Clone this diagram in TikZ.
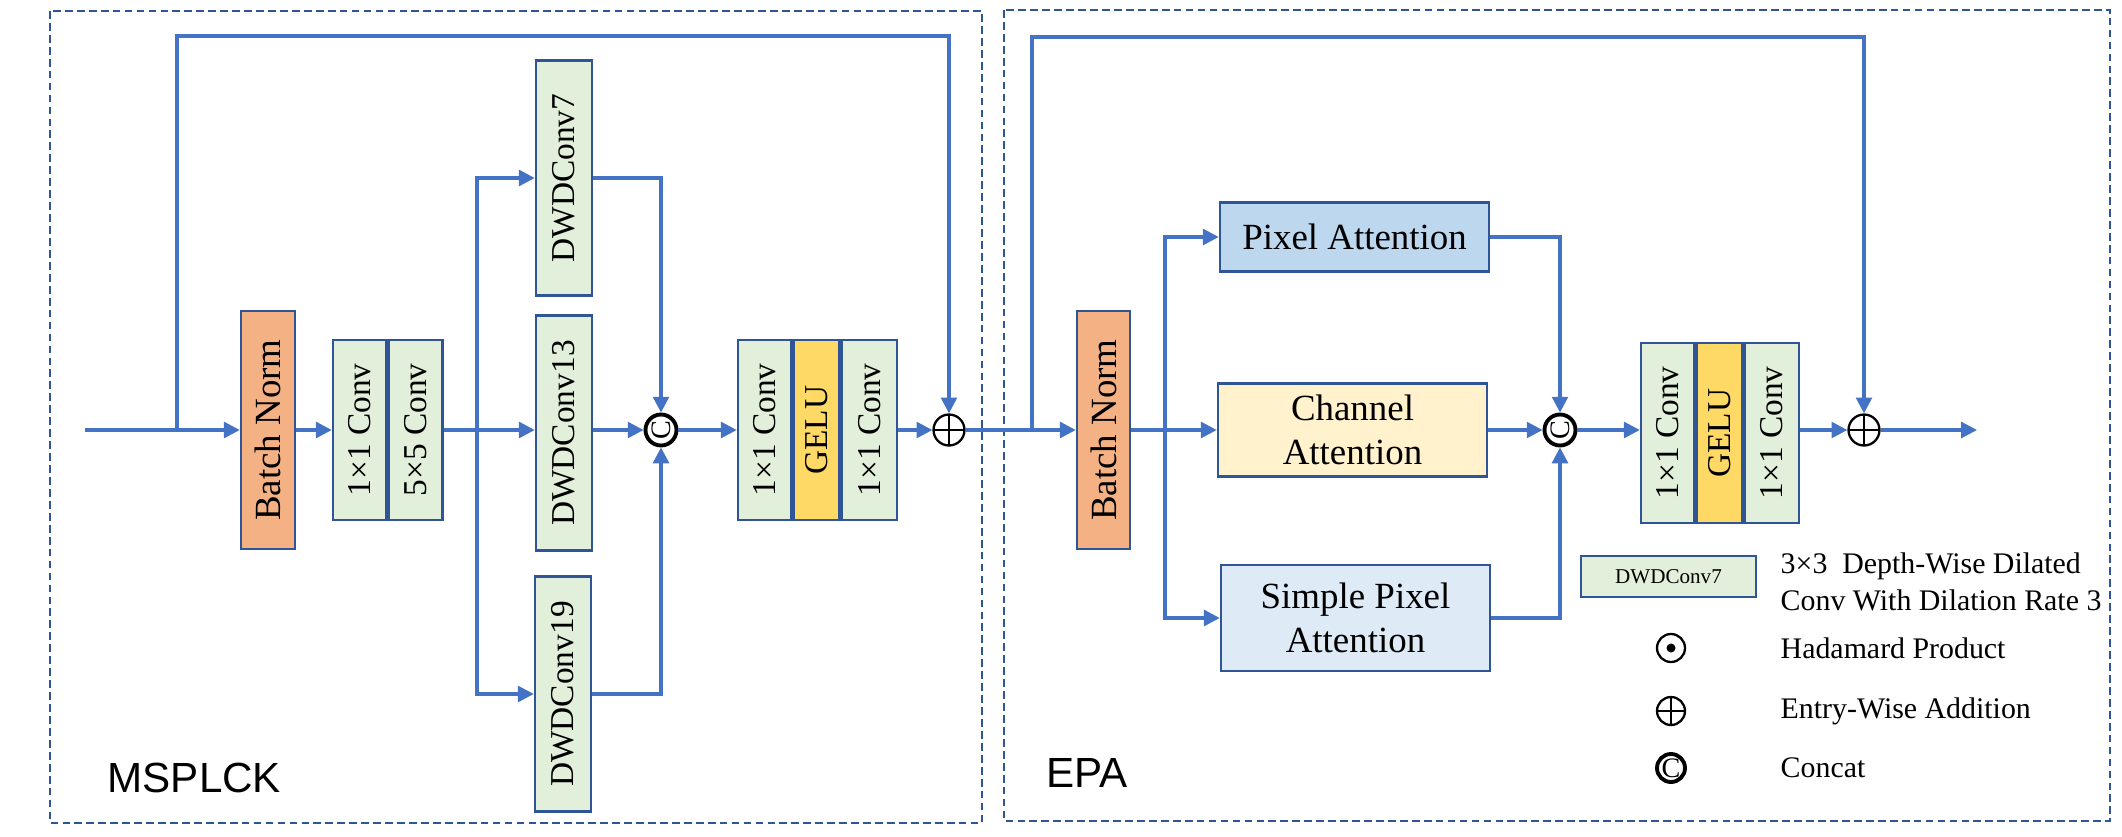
\documentclass[tikz,border=0pt]{standalone}
\usepackage{fontspec}
\setmainfont{Liberation Serif}
\newfontfamily\tagfont{Liberation Sans}
\usetikzlibrary{arrows.meta,positioning}
\definecolor{flowblue}{RGB}{68,114,196}
\definecolor{edgeblue}{RGB}{47,85,151}
\definecolor{convgreen}{RGB}{226,239,218}
\definecolor{normorange}{RGB}{244,177,131}
\definecolor{geluyellow}{RGB}{255,217,102}
\definecolor{pixblue}{RGB}{189,215,238}
\definecolor{chancream}{RGB}{255,242,204}
\definecolor{spixblue}{RGB}{222,235,247}

\begin{document}
\begin{tikzpicture}[x=0.1mm,y=-0.1mm,
    blk/.style={draw=edgeblue,line width=0.7pt,inner sep=0pt,fill=convgreen,
      minimum width=5.4mm,minimum height=18mm,font=\fontsize{9.5}{11}\selectfont},
    normblk/.style={blk,fill=normorange,minimum height=23.8mm,font=\fontsize{10.5}{12}\selectfont},
    dwblk/.style={blk,minimum width=5.6mm,minimum height=23.5mm},
    attblk/.style={draw=edgeblue,line width=0.7pt,minimum width=26.9mm,align=center,
      font=\fontsize{10.5}{12.5}\selectfont},
    flow/.style={draw=flowblue,line width=0.9pt,-{Triangle[length=4.5pt,width=4.5pt]}},
    wire/.style={draw=flowblue,line width=0.9pt},
    catop/.style={circle,draw,line width=1.1pt,minimum size=3.1mm,inner sep=0pt,
      font=\fontsize{8}{8}\selectfont},
    addop/.style={circle,draw,line width=0.65pt,minimum size=3.1mm,inner sep=0pt,
      path picture={\draw[line width=0.65pt]
        (path picture bounding box.north) -- (path picture bounding box.south)
        (path picture bounding box.west) -- (path picture bounding box.east);}},
    hadop/.style={circle,draw,line width=0.65pt,minimum size=2.8mm,inner sep=0pt,
      path picture={\fill (path picture bounding box.center) circle (0.45mm);}},
    lgtext/.style={anchor=west,inner sep=0pt,align=left,font=\fontsize{8.5}{10.5}\selectfont},
    frame/.style={draw=edgeblue,line width=0.6pt,dash pattern=on 2.2pt off 1.2pt}
  ]
  \useasboundingbox (0,0) rectangle (2122,836);

  % outer dashed frames
  \draw[frame] (50,11) rectangle (982,823);
  \draw[frame] (1004,10) rectangle (2110,821);
  \node[anchor=west,inner sep=0pt,font=\tagfont\fontsize{12}{14}\selectfont] (lblmsp) at (107,778) {MSPLCK};
  \node[anchor=west,inner sep=0pt,font=\tagfont\fontsize{12}{14}\selectfont] (lblepa) at (1046,773) {EPA};

  % MSPLCK block
  \coordinate (in) at (85,430);
  \coordinate (sk1) at (177,430);
  \coordinate (top1) at (177,36);
  \node[normblk] (bn1) at (268,430) {\rotatebox{90}{Batch Norm}};
  \node[blk,minimum width=5.3mm] (k1) at (359.5,430) {\rotatebox{90}{1×1 Conv}};
  \node[blk,right=0pt of k1] (k5) {\rotatebox{90}{5×5 Conv}};
  \coordinate (sp1) at (477,430);
  \node[dwblk] (dw7) at (564,178) {\rotatebox{90}{DWDConv7}};
  \node[dwblk] (dw13) at (564,433) {\rotatebox{90}{DWDConv13}};
  \node[dwblk] (dw19) at (563,694) {\rotatebox{90}{DWDConv19}};
  \node[catop] (cat1) at (661,430) {\rotatebox{90}{C}};
  \node[blk,minimum width=5.3mm] (m1a) at (764.5,430) {\rotatebox{90}{1×1 Conv}};
  \node[blk,fill=geluyellow,minimum width=4.6mm,right=0pt of m1a] (m1g) {\rotatebox{90}{GELU}};
  \node[blk,minimum width=5.5mm,right=0pt of m1g] (m1b) {\rotatebox{90}{1×1 Conv}};
  \node[addop] (add1) at (949,430) {};

  \draw[flow] (in) -- (bn1);
  \draw[flow] (sk1) -- (top1) -| (add1.north);
  \draw[flow] (bn1) -- (k1);
  \draw[wire] (k5.east) -- (sp1);
  \draw[flow] (sp1) |- (dw7.west);
  \draw[flow] (sp1) -- (sp1 -| dw13.west);
  \draw[flow] (sp1) |- (dw19.west);
  \draw[flow] (dw13.east |- cat1) -- (cat1);
  \draw[flow] (dw7.east) -| (cat1.north);
  \draw[flow] (dw19.east) -| (cat1.south);
  \draw[flow] (cat1) -- (m1a);
  \draw[flow] (m1b) -- (add1);

  % EPA block
  \coordinate (sk2) at (1032,430);
  \coordinate (top2) at (1032,37);
  \node[normblk,minimum width=5.3mm] (bn2) at (1103.5,430) {\rotatebox{90}{Batch Norm}};
  \coordinate (sp2) at (1165,430);
  \node[attblk,fill=pixblue,minimum height=6.9mm] (pa) at (1354.5,237) {Pixel Attention};
  \node[attblk,fill=chancream,minimum height=8.7mm] (ca) at (1352.5,430) {Channel\\Attention};
  \node[attblk,fill=spixblue,minimum height=10.6mm] (spa) at (1355.5,618) {Simple Pixel\\Attention};
  \node[catop] (cat2) at (1560,430) {\rotatebox{90}{C}};
  \node[blk,minimum width=5.3mm] (m2a) at (1667.5,433) {\rotatebox{90}{1×1 Conv}};
  \node[blk,fill=geluyellow,minimum width=4.6mm,right=0pt of m2a] (m2g) {\rotatebox{90}{GELU}};
  \node[blk,minimum width=5.4mm,right=0pt of m2g] (m2b) {\rotatebox{90}{1×1 Conv}};
  \node[addop] (add2) at (1864,430) {};
  \coordinate (out) at (1977,430);

  \draw[flow] (add1) -- (bn2);
  \draw[flow] (sk2) -- (top2) -| (add2.north);
  \draw[flow] (bn2) -- (ca);
  \draw[flow] (sp2) |- (pa.west);
  \draw[flow] (sp2) |- (spa.west);
  \draw[flow] (pa.east) -| (cat2.north);
  \draw[flow] (ca) -- (cat2);
  \draw[flow] (spa.east) -| (cat2.south);
  \draw[flow] (cat2) -- (m2a.west |- cat2);
  \draw[flow] (m2b.east |- add2) -- (add2);
  \draw[flow] (add2) -- (out);

  % legend
  \node[blk,minimum width=17.5mm,minimum height=4.1mm,font=\fontsize{6}{7}\selectfont] (lgdw) at (1668.5,576.5) {DWDConv7};
  \node[lgtext] (lgdwt) at (1780,582) {3×3\ \ Depth-Wise Dilated\\Conv With Dilation Rate 3};
  \node[hadop] (lghad) at (1671,648) {};
  \node[lgtext] (lghadt) at (1780,648) {Hadamard Product};
  \node[addop,minimum size=2.8mm] (lgadd) at (1671,711) {};
  \node[lgtext] (lgaddt) at (1780,711) {Entry-Wise Addition};
  \node[catop,minimum size=2.8mm] (lgcat) at (1671,768) {C};
  \node[lgtext] (lgcatt) at (1780,768) {Concat};
\end{tikzpicture}
\end{document}
